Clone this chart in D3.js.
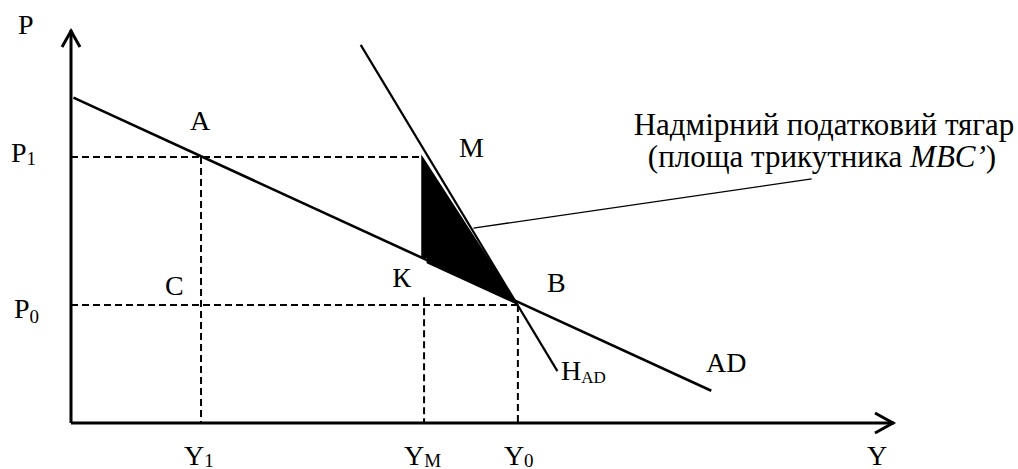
<!DOCTYPE html>
<html>
<head>
<meta charset="utf-8">
<script src="https://cdn.jsdelivr.net/npm/d3@7"></script>
<style>
  html, body { margin: 0; padding: 0; background: #fff; }
</style>
</head>
<body>
<svg id="chart" width="1018" height="469"></svg>
<script>
// ---- data (abstract units of the diagram) ----
const yLevels = [ { name: "Y", sub: "1", v: 1.58 }, { name: "Y", sub: "M", v: 4.29 }, { name: "Y", sub: "0", v: 5.43 } ];
const pLevels = [ { name: "P", sub: "1", v: 6.77 }, { name: "P", sub: "0", v: 3.0 } ];
const adLine = [ [0.03, 8.28], [7.78, 0.82] ];          // AD curve
const hadLine = [ [3.52, 9.62], [5.91, 1.32] ];          // H_AD curve
const burden = [ [4.265, 6.77], [5.42, 3.03], [4.33, 4.08], [4.33, 4.22], [4.265, 4.22] ]; // MBC' triangle
const pointA = [1.58, 6.77], pointM = [4.265, 6.77], pointB = [5.43, 3.0], pointC = [1.58, 3.0], pointK = [4.22, 4.25];
const annotationLines = ["Надмірний податковий тягар", "(площа трикутника\u00A0"];
const annotationItalic = "MBC’";
const leader = [ [4.89, 4.96], [9.0, 6.21] ];

const FONT = "Liberation Serif";
const svg = d3.select("#chart");
const x = d3.scaleLinear().domain([0, 10]).range([71, 894]);
const y = d3.scaleLinear().domain([0, 10]).range([423, 30]);
const line = d3.line().x(d => x(d[0])).y(d => y(d[1]));

// dashed guides
const dash = "7,4";
pLevels.forEach(p => {
  const xEnd = p.sub === "1" ? pointM[0] : pointB[0];
  svg.append("line").attr("x1", x(0)).attr("x2", x(xEnd)).attr("y1", y(p.v)).attr("y2", y(p.v))
    .attr("stroke", "#000").attr("stroke-width", 2).attr("stroke-dasharray", dash);
});
const vTops = { "1": pLevels[0].v, "M": 3.2, "0": pLevels[1].v };
yLevels.forEach(l => {
  svg.append("line").attr("x1", x(l.v)).attr("x2", x(l.v)).attr("y1", y(vTops[l.sub])).attr("y2", y(0))
    .attr("stroke", "#000").attr("stroke-width", 2).attr("stroke-dasharray", dash);
});

// curves
svg.append("path").attr("d", line(adLine)).attr("fill", "none").attr("stroke", "#000").attr("stroke-width", 2.6);
svg.append("path").attr("d", line(hadLine)).attr("fill", "none").attr("stroke", "#000").attr("stroke-width", 2.2);
svg.append("path").attr("d", line(burden) + "Z").attr("fill", "#000").attr("stroke", "#000").attr("stroke-width", 1.5);

// leader
svg.append("path").attr("d", line(leader)).attr("fill", "none").attr("stroke", "#000").attr("stroke-width", 1.3);

// axes
svg.append("path").attr("d", `M${x(0)},${y(0)}V${y(10)}`).attr("stroke", "#000").attr("stroke-width", 3).attr("fill", "none");
svg.append("path").attr("d", `M${x(0)},${y(0)}H${x(10)}`).attr("stroke", "#000").attr("stroke-width", 3).attr("fill", "none");
svg.append("path").attr("d", `M${x(0) - 9},${y(10) + 17}L${x(0)},${y(10) + 1}L${x(0) + 9},${y(10) + 17}`)
  .attr("stroke", "#000").attr("stroke-width", 3).attr("fill", "none");
svg.append("path").attr("d", `M${x(10) - 19},${y(0) - 10}L${x(10) - 1},${y(0)}L${x(10) - 19},${y(0) + 10}`)
  .attr("stroke", "#000").attr("stroke-width", 3).attr("fill", "none");

// labels (plain text elements; subscripts placed after measured width)
const FS = 28, SFS = 19;
function txt(tx, ty, s, fs, italic) {
  const t = svg.append("text").attr("x", tx).attr("y", ty).attr("font-size", fs)
    .style("font-family", FONT).text(s);
  if (italic) t.style("font-style", "italic");
  return t;
}
function label(tx, ty, main, sub, subFs, dy) {
  const t = txt(tx, ty, main, FS);
  if (sub) {
    const w = t.node().getComputedTextLength();
    txt(tx + w, ty + (dy == null ? 4 : dy), sub, subFs || SFS);
  }
}
label(18, 34, "P");
label(867, 465, "Y");
label(11, y(pLevels[0].v) + 5, pLevels[0].name, pLevels[0].sub, 19, 3);
label(14, y(pLevels[1].v) + 13, pLevels[1].name, pLevels[1].sub, 19, 5);
yLevels.forEach(l => label(x(l.v) - (l.sub === "1" ? 17 : l.sub === "M" ? 20 : 14), 465, l.name, l.sub, SFS, 2));
label(x(pointA[0]) - 11, y(pointA[1]) - 27, "A");
label(x(pointM[0]) + 37, y(pointM[1]), "M");
label(x(pointK[0]) - 26, y(pointK[1]) + 31, "К");
label(x(pointB[0]) + 29, y(pointB[1]) - 13, "B");
label(x(pointC[0]) - 36, y(pointC[1]) - 10, "C");
label(706, 372, "AD");
label(561, 380, "H", "AD", 17, 3);

// annotation
const AFS = 31;
txt(824, 135, annotationLines[0], AFS).attr("text-anchor", "middle");
const parts = [ [annotationLines[1], false], [annotationItalic, true], [")", false] ];
const nodes = parts.map(p => txt(0, 167, p[0], AFS, p[1]));
const widths = nodes.map(n => n.node().getComputedTextLength());
let cx = 822 - d3.sum(widths) / 2;
nodes.forEach((n, i) => { n.attr("x", cx); cx += widths[i]; });
</script>
</body>
</html>
